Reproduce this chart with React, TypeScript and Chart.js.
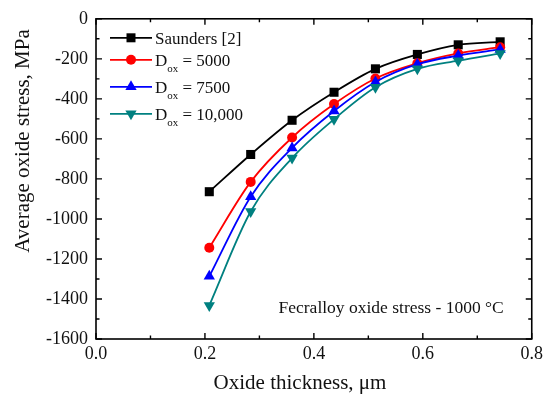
import React, { useEffect, useRef } from "react";
import { Chart, registerables } from "chart.js";

Chart.register(...registerables);

const thickness = [0.208, 0.284, 0.36, 0.437, 0.513, 0.59, 0.665, 0.742];
const saunders = [-864, -678, -507, -367, -250, -178, -130, -115];
const dox5000 = [-1144, -815, -593, -426, -298, -222, -173, -142];
const dox7500 = [-1287, -889, -645, -461, -316, -227, -184, -153];
const dox10000 = [-1432, -963, -696, -502, -342, -250, -209, -173];

const xMajorTicks = [0, 0.2, 0.4, 0.6, 0.8];
const xMinorTicks = [0.1, 0.3, 0.5, 0.7];
const yMajorTicks = [0, -200, -400, -600, -800, -1000, -1200, -1400, -1600];
const yMinorTicks = [-100, -300, -500, -700, -900, -1100, -1300, -1500];

const seriesMain = ["Saunders [2]", "D", "D", "D"];
const seriesSub = ["", "ox", "ox", "ox"];
const seriesRest = ["", " = 5000", " = 7500", " = 10,000"];
const seriesColors = ["#000000", "#ff0000", "#0000ff", "#008080"];
const seriesStyles = ["rect", "circle", "triangle", "triangleDown"];

const xTitle = "Oxide thickness, \u03bcm";
const yTitle = "Average oxide stress, MPa";
const note = "Fecralloy oxide stress - 1000 \u00b0C";

const FONT = '"Liberation Serif", "Times New Roman", serif';

function drawMarker(ctx: CanvasRenderingContext2D, style: string, x: number, y: number, color: string) {
  ctx.save();
  ctx.fillStyle = color;
  ctx.strokeStyle = color;
  ctx.beginPath();
  if (style === "rect") {
    const s = 4.5;
    ctx.rect(x - s, y - s, 2 * s, 2 * s);
  } else if (style === "circle") {
    ctx.arc(x, y, 5, 0, Math.PI * 2);
  } else {
    const r = 6.5;
    const base = style === "triangle" ? -Math.PI / 2 : Math.PI / 2;
    for (let i = 0; i < 3; i++) {
      const a = base + (i * 2 * Math.PI) / 3;
      const px = x + r * Math.cos(a);
      const py = y + r * Math.sin(a);
      if (i === 0) ctx.moveTo(px, py);
      else ctx.lineTo(px, py);
    }
    ctx.closePath();
  }
  ctx.fill();
  ctx.restore();
}

const framePlugin = {
  id: "framePlugin",
  afterDraw(chart: any) {
    const ctx: CanvasRenderingContext2D = chart.ctx;
    const { left, right, top, bottom } = chart.chartArea;
    const xs = chart.scales.x;
    const ys = chart.scales.y;
    ctx.save();
    ctx.strokeStyle = "#000";
    ctx.lineWidth = 1.6;
    ctx.strokeRect(left, top, right - left, bottom - top);
    ctx.lineWidth = 1.4;
    const drawX = (v: number, len: number) => {
      const px = xs.getPixelForValue(v);
      ctx.beginPath();
      ctx.moveTo(px, bottom);
      ctx.lineTo(px, bottom - len);
      ctx.moveTo(px, top);
      ctx.lineTo(px, top + len);
      ctx.stroke();
    };
    const drawY = (v: number, len: number) => {
      const py = ys.getPixelForValue(v);
      ctx.beginPath();
      ctx.moveTo(left, py);
      ctx.lineTo(left + len, py);
      ctx.moveTo(right, py);
      ctx.lineTo(right - len, py);
      ctx.stroke();
    };
    xMajorTicks.forEach((v) => drawX(v, 6));
    xMinorTicks.forEach((v) => drawX(v, 3.5));
    yMajorTicks.forEach((v) => drawY(v, 6));
    yMinorTicks.forEach((v) => drawY(v, 3.5));

    // axis titles
    ctx.fillStyle = "#111";
    ctx.font = `21px ${FONT}`;
    ctx.textAlign = "center";
    ctx.textBaseline = "middle";
    ctx.fillText(xTitle, 300, 383);
    ctx.save();
    ctx.translate(23, 141);
    ctx.rotate(-Math.PI / 2);
    ctx.fillText(yTitle, 0, 0);
    ctx.restore();

    // legend
    const rows = [34, 56, 83, 110];
    ctx.textBaseline = "alphabetic";
    ctx.textAlign = "left";
    for (let i = 0; i < seriesMain.length; i++) {
      const y = top + rows[i] - 15;
      const color = seriesColors[i];
      ctx.strokeStyle = color;
      ctx.lineWidth = 1.8;
      ctx.beginPath();
      ctx.moveTo(left + 14, y);
      ctx.lineTo(left + 56, y);
      ctx.stroke();
      drawMarker(ctx, seriesStyles[i], left + 35, y, color);
      ctx.fillStyle = "#111";
      let tx = left + 59;
      const base = y + 6.5;
      ctx.font = `17px ${FONT}`;
      ctx.fillText(seriesMain[i], tx, base);
      tx += ctx.measureText(seriesMain[i]).width;
      if (seriesSub[i]) {
        ctx.font = `11px ${FONT}`;
        ctx.fillText(seriesSub[i], tx, base + 6);
        tx += ctx.measureText(seriesSub[i]).width;
        ctx.font = `17px ${FONT}`;
        ctx.fillText(seriesRest[i], tx, base);
      }
    }

    // annotation
    ctx.font = `17.5px ${FONT}`;
    ctx.textAlign = "right";
    ctx.fillText(note, right - 28, bottom - 26);
    ctx.restore();
  },
};

export default function App() {
  const ref = useRef<HTMLCanvasElement | null>(null);
  useEffect(() => {
    if (!ref.current) return;
    const mk = (values: number[], i: number) => ({
      label: seriesMain[i] + seriesSub[i] + seriesRest[i],
      data: thickness.map((x, k) => ({ x, y: values[k] })),
      borderColor: seriesColors[i],
      backgroundColor: seriesColors[i],
      borderWidth: 1.8,
      pointStyle: seriesStyles[i] === "triangleDown" ? "triangle" : seriesStyles[i],
      rotation: seriesStyles[i] === "triangleDown" ? 180 : 0,
      pointRadius: seriesStyles[i] === "rect" ? 6.4 : seriesStyles[i] === "circle" ? 5 : 6.5,
      pointBorderWidth: 0,
      cubicInterpolationMode: "monotone" as const,
      clip: false as const,
    });
    const chart = new Chart(ref.current, {
      type: "line",
      data: {
        datasets: [
          mk(dox10000, 3),
          mk(dox7500, 2),
          mk(dox5000, 1),
          mk(saunders, 0),
        ],
      },
      options: {
        animation: false,
        responsive: false,
        layout: { padding: { top: 15, right: 15, left: 0, bottom: 0 } },
        plugins: { legend: { display: false }, tooltip: { enabled: false } },
        scales: {
          x: {
            type: "linear",
            min: 0,
            max: 0.8,
            grid: { display: false, drawTicks: false },
            border: { display: false },
            ticks: {
              stepSize: 0.2,
              padding: 4,
              color: "#111",
              font: { family: FONT, size: 18 },
              maxRotation: 0,
              callback: (v: any) => Number(v).toFixed(1),
            },
            afterFit: (s: any) => {
              s.height = 55;
            },
          },
          y: {
            type: "linear",
            min: -1600,
            max: 0,
            grid: { display: false, drawTicks: false },
            border: { display: false },
            ticks: {
              stepSize: 200,
              padding: 8,
              color: "#111",
              font: { family: FONT, size: 18 },
              callback: (v: any) => String(Math.round(Number(v))),
            },
            afterFit: (s: any) => {
              s.width = 96;
            },
          },
        },
      },
      plugins: [framePlugin],
    });
    return () => chart.destroy();
  }, []);
  return (
    <div style={{ position: "fixed", left: 0, top: 0, width: 547, height: 394, background: "#fff" }}>
      <canvas ref={ref} width={547} height={394} />
    </div>
  );
}
